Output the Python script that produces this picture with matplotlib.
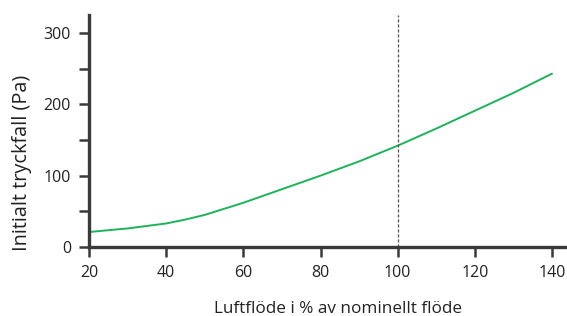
import matplotlib
matplotlib.use("Agg")
import matplotlib.pyplot as plt
import numpy as np

flow = [20, 30, 40, 45, 50, 60, 70, 80, 90, 100, 110, 120, 130, 140]
pressure = [21, 26, 33, 38.5, 45, 62, 81, 100, 120, 142, 166, 191, 216, 243]
nominal = 100
xticks = [20, 40, 60, 80, 100, 120, 140]
yticks_major = [0, 100, 200, 300]
yticks_minor = [50, 150, 250]

plt.rcParams['font.family'] = ['Open Sans', 'DejaVu Sans']

fig = plt.figure(figsize=(5.67, 3.16), dpi=100)
ax = fig.add_axes([89/567, 1-247/316, (567-89)/567, (247-15)/316])

ax.plot(flow, pressure, color='#1db35a', lw=1.4, solid_capstyle='round')
ax.axvline(nominal, color='#555555', lw=0.9, ls=(0, (2.5, 1.5)))

ax.set_xlim(20, 20 + (567-89)/((552-89)/120))
ax.set_ylim(0, (247-15)/((247-33)/300))

for s in ['top', 'right']:
    ax.spines[s].set_visible(False)
for s in ['left', 'bottom']:
    ax.spines[s].set_color('#3a3a3a')
    ax.spines[s].set_linewidth(2.4)

ax.set_xticks(xticks)
ax.set_yticks(yticks_major)
ax.set_yticks(yticks_minor, minor=True)
ax.tick_params(axis='both', which='both', direction='out', length=7, width=1.8,
               color='#3a3a3a', labelsize=11.5, labelcolor='#222222', pad=6)
ax.tick_params(axis='x', pad=6)

ax.set_xlabel('Luftflöde i % av nominellt flöde', fontsize=12.3, color='#222222')
ax.xaxis.set_label_coords((338-89)/478, (247-301)/232)
ax.set_ylabel('Initialt tryckfall (Pa)', fontsize=14.3, color='#222222', va='center')
ax.yaxis.set_label_coords((22-89)/478, (247-163)/232)

fig.savefig('out.png', dpi=100)
